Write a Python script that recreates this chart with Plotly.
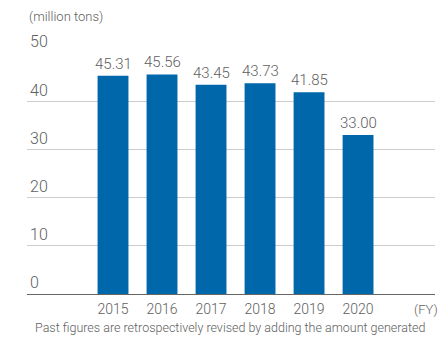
import plotly.graph_objects as go

years = ["2015", "2016", "2017", "2018", "2019", "2020"]
amounts = [45.31, 45.56, 43.45, 43.73, 41.85, 33.00]
y_ticks = [0, 10, 20, 30, 40, 50]

BAR_BLUE = "#0067AA"
TEXT_GRAY = "#606060"
FONT = "Roboto, Liberation Sans, Arial, sans-serif"
LIGHT = 300

fig = go.Figure(
    go.Bar(
        x=years,
        y=amounts,
        width=0.63,
        marker=dict(color=BAR_BLUE, line=dict(width=0)),
        hoverinfo="skip",
    )
)

# value labels above each bar (x given as category index), on a white box
# so the gridline breaks behind them
for i, val in enumerate(amounts):
    fig.add_annotation(
        x=i, y=val, xref="x", yref="y",
        text=f"{val:.2f}", showarrow=False,
        yanchor="bottom", yshift=0,
        bgcolor="white", borderpad=2,
        font=dict(family=FONT, size=15, color=TEXT_GRAY, weight=LIGHT),
    )

fig.add_annotation(
    x=0, y=1, xref="paper", yref="paper", xanchor="left", yanchor="middle",
    yshift=37, text="(million tons)", showarrow=False,
    font=dict(family=FONT, size=13, color=TEXT_GRAY, weight=LIGHT),
)
fig.add_annotation(
    x=0.978, y=0, xref="paper", yref="paper", xanchor="center", yanchor="middle",
    yshift=-15, text="(FY)", showarrow=False,
    font=dict(family=FONT, size=13, color=TEXT_GRAY, weight=LIGHT),
)
fig.add_annotation(
    x=0.015, y=0, xref="paper", yref="paper", xanchor="left", yanchor="middle",
    yshift=-33, text="Past figures are retrospectively revised by adding the amount generated",
    showarrow=False,
    font=dict(family=FONT, size=12.5, color=TEXT_GRAY, weight=LIGHT),
)

fig.update_layout(
    width=446, height=338,
    margin=dict(l=27, r=11, t=53, b=44),
    paper_bgcolor="white", plot_bgcolor="white",
    showlegend=False,
    xaxis=dict(
        type="category", range=[-1.755, 6.57],
        showgrid=False, showline=True, linecolor="#666666", linewidth=1,
        ticks="", ticklabelstandoff=2,
        tickfont=dict(family=FONT, size=14, color=TEXT_GRAY, weight=LIGHT),
        fixedrange=True,
    ),
    yaxis=dict(
        range=[0, 50], tickvals=y_ticks, ticktext=[str(v) for v in y_ticks],
        showgrid=True, gridcolor="#cccccc", gridwidth=1,
        zeroline=False, showline=False, ticks="",
        ticklabelposition="inside top", ticklabeloverflow="allow",
        tickfont=dict(family=FONT, size=16, color=TEXT_GRAY, weight=LIGHT),
        fixedrange=True,
    ),
)

fig.write_html("out.html")
